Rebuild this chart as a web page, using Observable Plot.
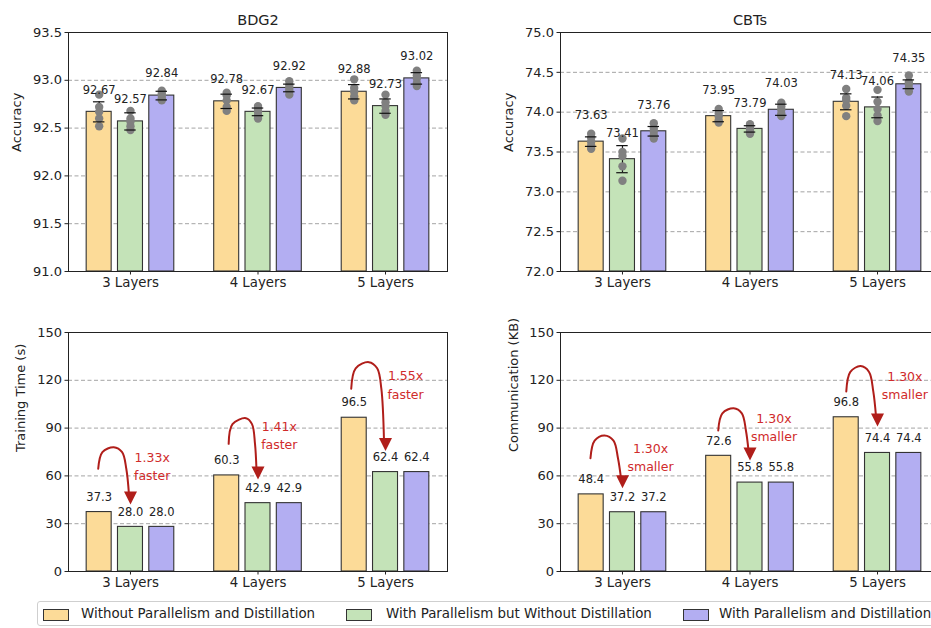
<!DOCTYPE html>
<html>
<head>
<meta charset="utf-8">
<script src="https://cdn.jsdelivr.net/npm/d3@7"></script>
<script src="https://cdn.jsdelivr.net/npm/@observablehq/plot@0.6"></script>
<style>
  html, body { margin: 0; padding: 0; background: #fff; }
  #page { position: relative; width: 931px; height: 628px; overflow: hidden; font-family: "DejaVu Sans", sans-serif; }
  .panel { position: absolute; width: 460px; height: 300px; }
  .panel svg { max-width: none !important; width: 460px; height: 300px; }
  #legend { position: absolute; left: 37px; top: 601px; width: 1000px; height: 25px; border: 1px solid #cfcfcf; border-radius: 3px; box-sizing: border-box; }
  .sw { position: absolute; top: 7px; width: 24px; height: 10px; border: 1px solid #333; box-sizing: content-box; }
  .lt { position: absolute; top: 4px; font-size: 13.4px; line-height: 16px; color: #222; white-space: nowrap; }
</style>
</head>
<body>
<div id="page">
  <div class="panel" id="p1" style="left:0;top:0"></div>
  <div class="panel" id="p2" style="left:492px;top:0"></div>
  <div class="panel" id="p3" style="left:0;top:300px"></div>
  <div class="panel" id="p4" style="left:492px;top:300px"></div>
  <div id="legend"></div>
</div>
<script>
// ---------------- data ----------------
const layers = ["3 Layers", "4 Layers", "5 Layers"];
const seriesNames = [
  "Without Parallelism and Distillation",
  "With Parallelism but Without Distillation",
  "With Parallelism and Distillation"
];
const seriesColors = ["#FCDB98", "#C4E3B8", "#B3AEF2"];

// accuracy means [layer][series]
const bdg2Mean = [[92.67, 92.57, 92.84], [92.78, 92.67, 92.92], [92.88, 92.73, 93.02]];
const bdg2Err  = [[0.105, 0.09, 0.045], [0.075, 0.04, 0.04], [0.075, 0.075, 0.06]];
const bdg2Runs = [
  [[92.85, 92.72, 92.67, 92.60, 92.52], [92.68, 92.60, 92.57, 92.52, 92.48], [92.89, 92.86, 92.84, 92.81, 92.79]],
  [[92.87, 92.84, 92.79, 92.72, 92.68], [92.73, 92.70, 92.67, 92.63, 92.60], [92.99, 92.95, 92.92, 92.89, 92.85]],
  [[93.01, 92.92, 92.88, 92.83, 92.79], [92.85, 92.77, 92.73, 92.68, 92.64], [93.10, 93.05, 93.02, 92.97, 92.94]]
];
const cbtsMean = [[73.63, 73.41, 73.76], [73.95, 73.79, 74.03], [74.13, 74.06, 74.35]];
const cbtsErr  = [[0.06, 0.17, 0.06], [0.07, 0.04, 0.07], [0.10, 0.13, 0.055]];
const cbtsRuns = [
  [[73.73, 73.68, 73.63, 73.58, 73.54], [73.67, 73.50, 73.45, 73.32, 73.14], [73.86, 73.80, 73.76, 73.71, 73.67]],
  [[74.04, 73.99, 73.95, 73.90, 73.87], [73.85, 73.82, 73.79, 73.76, 73.73], [74.12, 74.07, 74.03, 73.98, 73.95]],
  [[74.29, 74.18, 74.15, 74.08, 73.95], [74.28, 74.13, 74.04, 73.96, 73.89], [74.46, 74.38, 74.35, 74.30, 74.26]]
];
const trainTime = [[37.3, 28.0, 28.0], [60.3, 42.9, 42.9], [96.5, 62.4, 62.4]];
const commKB    = [[48.4, 37.2, 37.2], [72.6, 55.8, 55.8], [96.8, 74.4, 74.4]];

const accTicksBDG2 = [91.0, 91.5, 92.0, 92.5, 93.0, 93.5];
const accTicksCBTs = [72.0, 72.5, 73.0, 73.5, 74.0, 74.5, 75.0];
const costTicks = [0, 30, 60, 90, 120, 150];

// annotations: label and arrow anchors (start, peak, tip) in group units / value units
const speedLabels = ["1.33x\nfaster", "1.41x\nfaster", "1.55x\nfaster"];
const speedLabelPos = [[0.170, 66.8], [0.167, 86.2], [0.157, 117.9]];
const speedArrows = [
  {start: [-0.253, 64.5], peak: [-0.131, 78.0], tipY: 42.1},
  {start: [-0.230, 80.1], peak: [-0.094, 96.2], tipY: 57.7},
  {start: [-0.269, 114.7], peak: [-0.131, 131.4], tipY: 75.7}
];
const commLabels = ["1.30x\nsmaller", "1.30x\nsmaller", "1.30x\nsmaller"];
const commLabelPos = [[0.220, 72.3], [0.188, 91.1], [0.214, 117.5]];
const commArrows = [
  {start: [-0.251, 71.1], peak: [-0.141, 85.4], tipY: 52.3},
  {start: [-0.249, 88.5], peak: [-0.128, 102.5], tipY: 69.7},
  {start: [-0.245, 113.0], peak: [-0.133, 128.9], tipY: 91.0}
];

// ---------------- layout / style ----------------
const barStep = 0.2455, barHalf = 0.098, capHalf = 0.045;
const arrowColor = "#b01e1a", noteColor = "#d02b2b";
const downTri = {
  draw(ctx) { ctx.moveTo(-6.5, -13); ctx.lineTo(6.5, -13); ctx.lineTo(0, 0); ctx.closePath(); }
};

function makePanel(o) {
  const rows = [];
  for (let g = 0; g < 3; g++) for (let s = 0; s < 3; s++) {
    rows.push({g, s, x: g + (s - 1) * barStep, v: o.means[g][s], e: o.errs ? o.errs[g][s] : 0});
  }
  const marks = [
    Plot.gridY(o.ticks.slice(1, -1), {stroke: "#9a9a9a", strokeOpacity: 1, strokeDasharray: "4,2.5", strokeWidth: 0.9}),
    Plot.rect(rows, {x1: d => d.x - barHalf, x2: d => d.x + barHalf, y1: o.ticks[0], y2: "v", fill: "s", stroke: "#333", strokeWidth: 1.1})
  ];
  if (o.runs) {
    const pts = [];
    rows.forEach(d => o.runs[d.g][d.s].forEach(v => pts.push({x: d.x, y: v})));
    const caps = rows.flatMap(d => [{x: d.x, y: d.v - d.e}, {x: d.x, y: d.v + d.e}]);
    marks.push(
      Plot.ruleX(rows, {x: "x", y1: d => d.v - d.e, y2: d => d.v + d.e, stroke: "#111", strokeWidth: 1.2}),
      Plot.dot(pts, {x: "x", y: "y", r: 4.2, fill: "#808080", stroke: "none"}),
      Plot.ruleY(caps, {y: "y", x1: d => d.x - capHalf, x2: d => d.x + capHalf, stroke: "#111", strokeWidth: 1.2})
    );
  }
  marks.push(Plot.text(rows, {x: "x", y: "v", text: d => o.fmt(d.v), dy: o.labelDy, fontSize: 11.5, fill: "#222"}));
  if (o.arrows) {
    const line = [], tips = [];
    o.arrows.forEach((a, g) => {
      const [xs, ys] = a.start, [xp, yp] = a.peak, xt = 0, yt = a.tipY;
      const w = xt - xs;
      const p = [
        [xs, ys],
        [xs + 0.13 * w, ys + 0.77 * (yp - ys)],
        [xp, yp],
        [xp + 0.5 * (xt - xp), yp - 0.23 * (yp - ys)],
        [xp + 0.75 * (xt - xp), ys],
        [xt - 0.012, yt + 6.5]
      ];
      p.forEach(([x, y]) => line.push({id: g, x: g + x, y}));
      tips.push({x: g + xt, y: yt});
    });
    const notes = o.notes.map((t, g) => ({x: g + o.notePos[g][0], y: o.notePos[g][1], t}));
    marks.push(
      Plot.line(line, {x: "x", y: "y", z: "id", curve: "catmull-rom", stroke: arrowColor, strokeWidth: 2}),
      Plot.dot(tips, {x: "x", y: "y", symbol: downTri, fill: arrowColor, stroke: "none", r: 3}),
      Plot.text(notes, {x: "x", y: "y", text: "t", fill: noteColor, fontSize: 12.5, lineHeight: 1.45})
    );
  }
  marks.push(
    Plot.axisX({ticks: [0, 1, 2], tickFormat: i => layers[i], tickSize: 3.5, tickPadding: 3, fontSize: 13.3, label: null}),
    Plot.axisY({ticks: o.ticks, tickFormat: o.tickFmt, tickSize: 3.5, tickPadding: 3, fontSize: 13, label: null}),
    Plot.text([o.ylabel], {frameAnchor: "left", dx: o.ylabelDx, rotate: -90, fontSize: 13, fill: "#222"})
  );
  if (o.title) marks.push(Plot.text([o.title], {frameAnchor: "top", dy: -18, fontSize: 14.5, fill: "#222"}));
  marks.push(Plot.frame({stroke: "#222", strokeWidth: 1}));
  return Plot.plot({
    width: 460, height: 300,
    marginLeft: 68, marginRight: 13, marginTop: 32, marginBottom: 29,
    x: {domain: [-0.486, 2.486]},
    y: {domain: [o.ticks[0], o.ticks[o.ticks.length - 1]]},
    color: {type: "ordinal", domain: [0, 1, 2], range: seriesColors},
    style: {fontFamily: "DejaVu Sans", fontSize: "13px", color: "#222", background: "transparent", overflow: "visible", maxWidth: "none"},
    marks
  });
}

const f2 = d3.format(".2f"), f1 = d3.format(".1f");
document.getElementById("p1").append(makePanel({
  title: "BDG2", means: bdg2Mean, errs: bdg2Err, runs: bdg2Runs, ticks: accTicksBDG2, tickFmt: f1,
  fmt: f2, labelDy: -22, ylabel: "Accuracy", ylabelDx: -52
}));
document.getElementById("p2").append(makePanel({
  title: "CBTs", means: cbtsMean, errs: cbtsErr, runs: cbtsRuns, ticks: accTicksCBTs, tickFmt: f1,
  fmt: f2, labelDy: -26, ylabel: "Accuracy", ylabelDx: -52
}));
document.getElementById("p3").append(makePanel({
  means: trainTime, ticks: costTicks, tickFmt: d3.format("d"), fmt: f1, labelDy: -15,
  ylabel: "Training Time (s)", ylabelDx: -48, arrows: speedArrows, notes: speedLabels, notePos: speedLabelPos
}));
document.getElementById("p4").append(makePanel({
  means: commKB, ticks: costTicks, tickFmt: d3.format("d"), fmt: f1, labelDy: -15,
  ylabel: "Communication (KB)", ylabelDx: -47, arrows: commArrows, notes: commLabels, notePos: commLabelPos
}));

// legend
const legend = document.getElementById("legend");
const swX = [4.5, 308, 645];
const txX = [43, 348, 681];
seriesNames.forEach((name, i) => {
  const sw = document.createElement("div");
  sw.className = "sw"; sw.style.left = swX[i] + "px"; sw.style.background = seriesColors[i];
  const tx = document.createElement("div");
  tx.className = "lt"; tx.style.left = txX[i] + "px"; tx.textContent = name;
  legend.append(sw, tx);
});
</script>
</body>
</html>
